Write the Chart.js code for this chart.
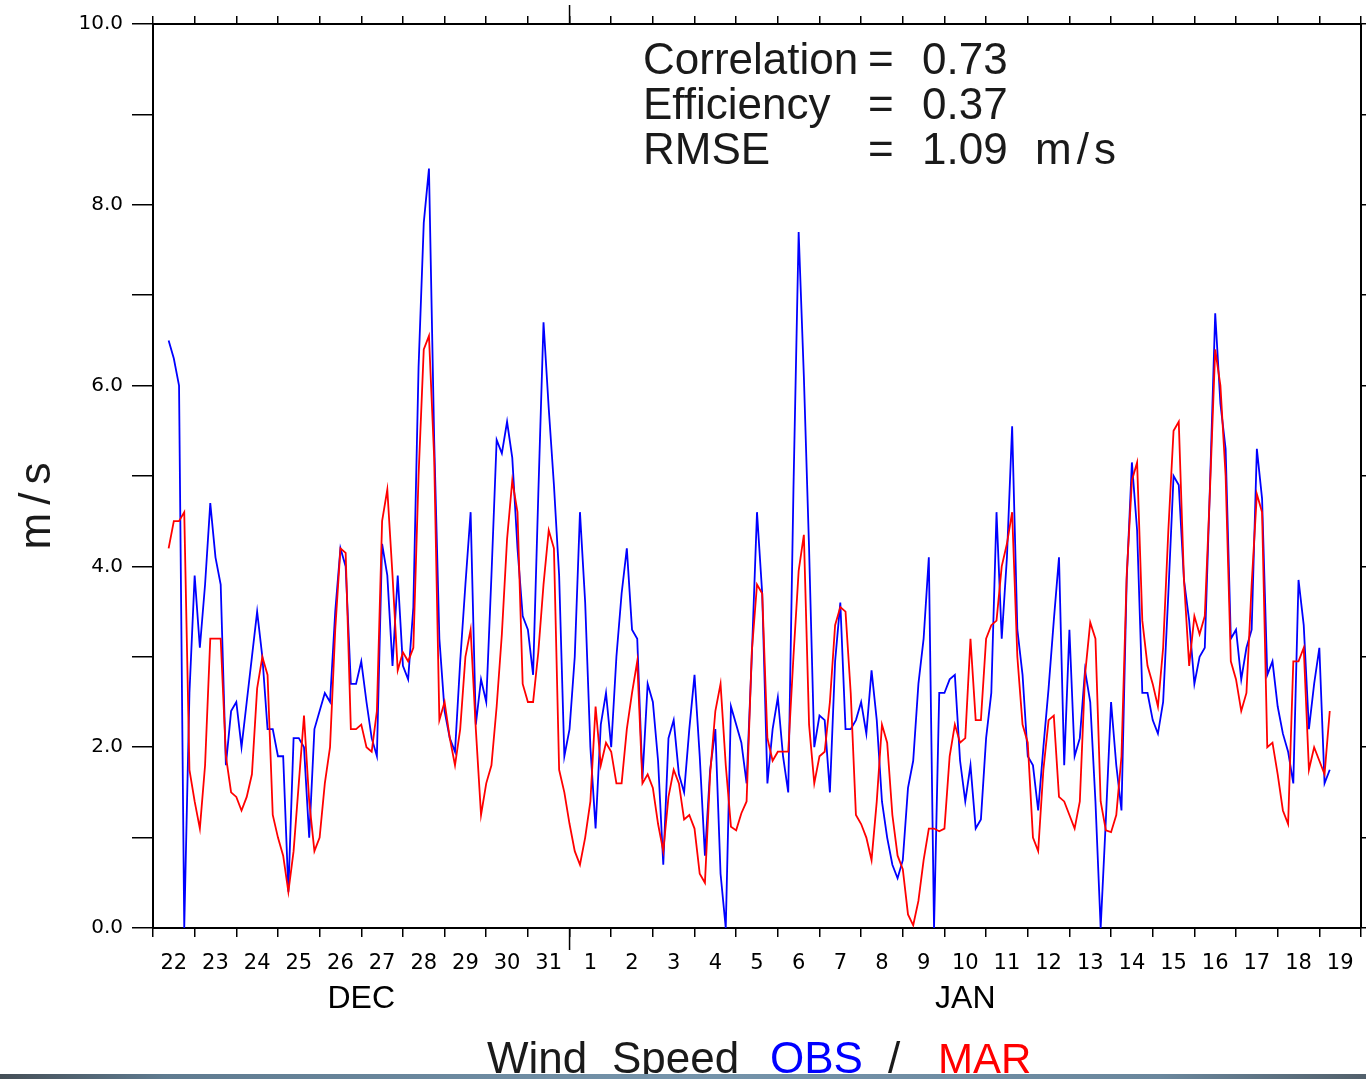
<!DOCTYPE html>
<html>
<head>
<meta charset="utf-8">
<title>Wind Speed OBS / MAR</title>
<script src="https://cdn.jsdelivr.net/npm/chart.js@4/dist/chart.umd.min.js"></script>
<style>
  html, body { margin: 0; padding: 0; background: #fff; }
  canvas { display: block; }
</style>
</head>
<body>
<canvas id="chart1" width="1366" height="1079"></canvas>
<script>
// one label per day, axis runs from 22 Dec 00h to 20 Jan 00h
var dayLabels = ['22', '23', '24', '25', '26', '27', '28', '29', '30', '31',
                 '1', '2', '3', '4', '5', '6', '7', '8', '9', '10',
                 '11', '12', '13', '14', '15', '16', '17', '18', '19'];
var monthLabels = ['DEC', 'JAN'];

var statNames = ['Correlation', 'Efficiency', 'RMSE'];
var statValues = ['0.73', '0.37', '1.09'];
var statUnits = ['', '', 'm/s'];

// 3-hourly samples, first one at 22 Dec 09h (days since 22 Dec 00h)
var startDay = 0.375;
var stepDay = 0.125;

var obsSpeed = [
  6.5, 6.3, 6.0, 0.0, 2.6,
  3.9, 3.1, 3.8, 4.7, 4.1, 3.8, 1.8, 2.4,
  2.5, 2.0, 2.5, 3.0, 3.5, 3.0, 2.2, 2.2,
  1.9, 1.9, 0.4, 2.1, 2.1, 2.0, 1.0, 2.2,
  2.4, 2.6, 2.5, 3.5, 4.2, 4.0, 2.7, 2.7,
  2.95, 2.5, 2.1, 1.9, 4.25, 3.9, 2.9, 3.9,
  2.9, 2.75, 3.55, 6.2, 7.8, 8.4, 5.4, 3.2,
  2.4, 2.1, 1.95, 2.95, 3.8, 4.6, 2.25, 2.75,
  2.5, 3.9, 5.4, 5.25, 5.6, 5.2, 4.2, 3.45,
  3.3, 2.8, 4.8, 6.7, 5.75, 4.9, 3.9, 1.9,
  2.2, 3.0, 4.6, 3.6, 2.0, 1.1, 2.25, 2.6,
  2.0, 3.0, 3.7, 4.2, 3.3, 3.2, 1.65, 2.7,
  2.5, 1.85, 0.7, 2.1, 2.3, 1.7, 1.5, 2.2,
  2.8, 1.9, 0.8, 1.75, 2.2, 0.6, 0.0, 2.45,
  2.25, 2.05, 1.6, 3.0, 4.6, 3.7, 1.6, 2.2,
  2.55, 1.9, 1.5, 4.85, 7.7, 6.1, 4.2, 2.0,
  2.35, 2.3, 1.5, 2.95, 3.6, 2.2, 2.2, 2.3,
  2.5, 2.15, 2.85, 2.3, 1.4, 1.0, 0.7, 0.55,
  0.75, 1.55, 1.85, 2.7, 3.2, 4.1, 0.0, 2.6,
  2.6, 2.75, 2.8, 1.85, 1.4, 1.8, 1.1, 1.2,
  2.1, 2.6, 4.6, 3.2, 4.1, 5.55, 3.3, 2.8,
  1.9, 1.8, 1.3, 2.0, 2.65, 3.4, 4.1, 1.8,
  3.3, 1.9, 2.1, 2.85, 2.5, 1.4, 0.0, 1.2,
  2.5, 1.8, 1.3, 3.85, 5.15, 4.4, 2.6, 2.6,
  2.3, 2.15, 2.5, 3.7, 5.0, 4.9, 3.85, 3.4,
  2.7, 3.0, 3.1, 4.9, 6.8, 5.8, 5.3, 3.2,
  3.3, 2.75, 3.1, 3.3, 5.3, 4.75, 2.8, 2.95,
  2.45, 2.15, 1.95, 1.6, 3.85, 3.35, 2.2, 2.7,
  3.1, 1.6, 1.75
];

var marSpeed = [
  4.2, 4.5, 4.5, 4.6, 1.75,
  1.4, 1.1, 1.8, 3.2, 3.2, 3.2, 1.9, 1.5,
  1.45, 1.3, 1.45, 1.7, 2.65, 3.0, 2.8, 1.25,
  1.0, 0.8, 0.4, 0.85, 1.6, 2.35, 1.4, 0.85,
  1.0, 1.6, 2.0, 3.3, 4.2, 4.15, 2.2, 2.2,
  2.25, 2.0, 1.95, 2.4, 4.5, 4.85, 3.9, 2.85,
  3.05, 2.95, 3.1, 5.0, 6.4, 6.55, 5.2, 2.3,
  2.5, 2.1, 1.8, 2.2, 3.0, 3.3, 2.2, 1.25,
  1.6, 1.8, 2.45, 3.25, 4.3, 4.95, 4.6, 2.7,
  2.5, 2.5, 3.05, 3.8, 4.4, 4.2, 1.75, 1.5,
  1.15, 0.85, 0.7, 1.0, 1.4, 2.45, 1.8, 2.05,
  1.95, 1.6, 1.6, 2.2, 2.6, 2.95, 1.6, 1.7,
  1.55, 1.15, 0.85, 1.45, 1.75, 1.6, 1.2, 1.25,
  1.1, 0.6, 0.5, 1.7, 2.4, 2.7, 1.8, 1.12,
  1.08, 1.27, 1.4, 3.05, 3.8, 3.7, 2.1, 1.85,
  1.95, 1.95, 1.95, 3.0, 3.95, 4.35, 2.25, 1.6,
  1.9, 1.95, 2.5, 3.35, 3.55, 3.5, 2.6, 1.25,
  1.15, 1.0, 0.75, 1.4, 2.25, 2.05, 1.25, 0.8,
  0.65, 0.15, 0.03, 0.3, 0.75, 1.1, 1.1, 1.07,
  1.1, 1.9, 2.25, 2.05, 2.1, 3.2, 2.3, 2.3,
  3.2, 3.35, 3.4, 4.0, 4.25, 4.6, 3.0, 2.25,
  2.05, 1.0, 0.85, 1.75, 2.3, 2.35, 1.45, 1.4,
  1.25, 1.1, 1.4, 2.8, 3.38, 3.2, 1.4, 1.08,
  1.06, 1.25, 1.9, 3.9, 4.95, 5.15, 3.4, 2.9,
  2.7, 2.45, 3.1, 4.4, 5.5, 5.6, 3.85, 2.9,
  3.45, 3.25, 3.45, 4.85, 6.4, 6.0, 5.0, 2.95,
  2.75, 2.4, 2.6, 3.8, 4.8, 4.6, 2.0, 2.05,
  1.7, 1.3, 1.15, 2.95, 2.95, 3.1, 1.75, 2.0,
  1.85, 1.7, 2.4
];

function toPoints(values) {
  return values.map(function(v, i) {
    return { x: startDay + i * stepDay, y: v };
  });
}

function everyStep(from, to, step) {
  var t = [];
  for (var v = from; v <= to; v += step) t.push({ value: v });
  return t;
}

var nDays = dayLabels.length;
var monthSplit = dayLabels.indexOf('1');

// longer month ticks, the statistics block, the y title and the bottom title
var decorations = {
  id: 'decorations',
  afterDraw: function(chart) {
    var ctx = chart.ctx;
    var area = chart.chartArea;
    var px = chart.scales.x.getPixelForValue(monthSplit);

    ctx.save();
    ctx.strokeStyle = '#000';
    ctx.lineWidth = 1.5;
    ctx.beginPath();
    ctx.moveTo(px, area.bottom);
    ctx.lineTo(px, area.bottom + 22);
    ctx.moveTo(px, area.top);
    ctx.lineTo(px, area.top - 19);
    ctx.stroke();

    ctx.fillStyle = '#1a1a1a';
    ctx.font = '44px "Liberation Sans", Arial, sans-serif';
    ctx.textBaseline = 'alphabetic';
    for (var i = 0; i < statNames.length; i++) {
      var y = 74 + i * 45;
      ctx.fillText(statNames[i], 643, y);
      ctx.fillText('=', 868, y);
      ctx.fillText(statValues[i], 922, y);
      if (statUnits[i]) {
        ctx.letterSpacing = '5px';
        ctx.fillText(statUnits[i], 1035, y);
        ctx.letterSpacing = '0px';
      }
    }

    ctx.save();
    ctx.translate(50, 502);
    ctx.rotate(-Math.PI / 2);
    ctx.textAlign = 'center';
    ctx.letterSpacing = '8px';
    ctx.fillText('m/s', 0, 0);
    ctx.restore();

    var ty = 1073;
    ctx.fillStyle = '#1a1a1a';
    ctx.fillText('Wind', 487, ty);
    ctx.fillText('Speed', 612, ty);
    ctx.fillStyle = '#0000ff';
    ctx.fillText('OBS', 770, ty);
    ctx.fillStyle = '#1a1a1a';
    ctx.fillText('/', 888, ty);
    ctx.fillStyle = '#ff0000';
    ctx.font = '42px "Liberation Sans", Arial, sans-serif';
    ctx.fillText('MAR', 938, ty);

    var g = ctx.createLinearGradient(0, 0, chart.width, 0);
    g.addColorStop(0, '#454f57');
    g.addColorStop(0.12, '#5f7b90');
    g.addColorStop(0.5, '#7594ab');
    g.addColorStop(0.85, '#6a879d');
    g.addColorStop(1, '#52606b');
    ctx.fillStyle = g;
    ctx.fillRect(0, 1074, chart.width, 5);
    ctx.restore();
  }
};

// keep the bottom axes from reserving side room for their labels
function fixHeight(h) {
  return function(scale) {
    scale.height = h;
    scale.paddingLeft = 0;
    scale.paddingRight = 0;
  };
}

var ctx1 = document.getElementById('chart1').getContext('2d');

new Chart(ctx1, {
  type: 'line',
  data: {
    datasets: [{
      label: 'OBS',
      data: toPoints(obsSpeed),
      borderColor: '#0000ff',
      borderWidth: 1.8,
      pointRadius: 0,
      tension: 0,
      order: 1
    }, {
      label: 'MAR',
      data: toPoints(marSpeed),
      borderColor: '#ff0000',
      borderWidth: 1.8,
      pointRadius: 0,
      tension: 0,
      order: 0
    }]
  },
  options: {
    responsive: false,
    animation: false,
    devicePixelRatio: 1,
    layout: { padding: { left: 0, right: 0, top: 0, bottom: 56 } },
    plugins: {
      legend: { display: false },
      tooltip: { enabled: false }
    },
    scales: {
      x: {
        type: 'linear',
        position: 'bottom',
        weight: 0,
        min: 0,
        max: nDays,
        afterBuildTicks: function(scale) {
          var t = [];
          for (var i = 0; i <= nDays; i++) {
            t.push({ value: i });
            if (i < nDays) t.push({ value: i + 0.5 });
          }
          scale.ticks = t;
        },
        afterFit: fixHeight(45),
        ticks: {
          autoSkip: false,
          maxRotation: 0,
          padding: 14,
          color: '#000',
          font: { family: 'DejaVu Sans', size: 21 },
          callback: function(value) {
            return Number.isInteger(value) ? '' : dayLabels[Math.floor(value)];
          }
        },
        grid: {
          drawOnChartArea: false,
          tickLength: 9,
          lineWidth: 1.5,
          color: function(c) {
            return c.tick && Number.isInteger(c.tick.value) ? '#000' : 'rgba(0,0,0,0)';
          }
        },
        border: { color: '#000', width: 2 }
      },
      xm: {
        type: 'linear',
        position: 'bottom',
        weight: 1,
        min: 0,
        max: nDays,
        afterBuildTicks: function(scale) {
          scale.ticks = [
            { value: monthSplit / 2 },
            { value: monthSplit + (nDays - monthSplit) / 2 }
          ];
        },
        afterFit: fixHeight(50),
        ticks: {
          autoSkip: false,
          maxRotation: 0,
          padding: 7,
          color: '#000',
          font: { family: 'Liberation Sans', size: 32 },
          callback: function(value, index) { return monthLabels[index]; }
        },
        grid: { display: false, drawTicks: false },
        border: { display: false }
      },
      xt: {
        type: 'linear',
        position: 'top',
        min: 0,
        max: nDays,
        afterBuildTicks: function(scale) { scale.ticks = everyStep(0, nDays, 1); },
        afterFit: fixHeight(24),
        ticks: { display: false },
        grid: { drawOnChartArea: false, tickLength: 8, color: '#000', lineWidth: 1.5 },
        border: { color: '#000', width: 2 }
      },
      y: {
        position: 'left',
        min: 0,
        max: 10,
        afterBuildTicks: function(scale) { scale.ticks = everyStep(0, 10, 1); },
        afterFit: function(scale) { scale.width = 153; },
        ticks: {
          autoSkip: false,
          padding: 9,
          color: '#000',
          font: { family: 'DejaVu Sans', size: 20 },
          callback: function(value) { return value % 2 === 0 ? value.toFixed(1) : ''; }
        },
        grid: { drawOnChartArea: false, tickLength: 21, color: '#000', lineWidth: 1.5 },
        border: { color: '#000', width: 2 }
      },
      y2: {
        position: 'right',
        min: 0,
        max: 10,
        afterBuildTicks: function(scale) { scale.ticks = everyStep(0, 10, 1); },
        afterFit: function(scale) { scale.width = 5; },
        ticks: { display: false },
        grid: { drawOnChartArea: false, tickLength: 21, color: '#000', lineWidth: 1.5 },
        border: { color: '#000', width: 2 }
      }
    }
  },
  plugins: [decorations]
});
</script>
</body>
</html>
